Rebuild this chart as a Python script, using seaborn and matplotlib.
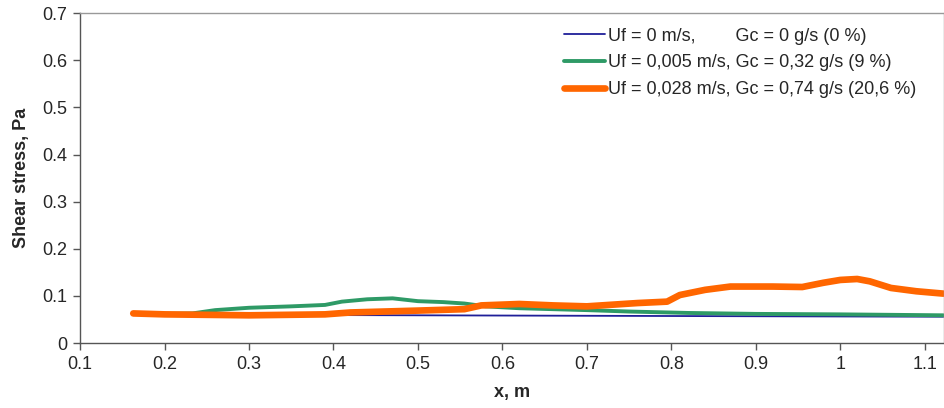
import numpy as np
import pandas as pd
import matplotlib
matplotlib.use("Agg")
import matplotlib.pyplot as plt
import seaborn as sns

# ---- data ----
x_blue = [0.163, 0.3, 0.5, 0.7, 0.9, 1.122]
y_blue = [0.063, 0.060, 0.059, 0.058, 0.057, 0.056]

x_green = [0.163, 0.2, 0.233, 0.26, 0.3, 0.35, 0.39, 0.41, 0.44, 0.47, 0.50,
           0.53, 0.555, 0.58, 0.62, 0.7, 0.75, 0.82, 0.9, 1.0, 1.122]
y_green = [0.063, 0.062, 0.063, 0.070, 0.075, 0.078, 0.081, 0.088, 0.093, 0.095, 0.089,
           0.087, 0.084, 0.078, 0.074, 0.070, 0.067, 0.064, 0.062, 0.061, 0.059]

x_orange = [0.163, 0.2, 0.3, 0.39, 0.42, 0.5, 0.555, 0.575, 0.62, 0.66, 0.7, 0.76,
            0.795, 0.81, 0.84, 0.87, 0.92, 0.955, 0.98, 1.0, 1.02, 1.035, 1.06, 1.09, 1.122]
y_orange = [0.063, 0.061, 0.059, 0.061, 0.065, 0.069, 0.072, 0.080, 0.083, 0.080, 0.078, 0.085,
            0.088, 0.102, 0.113, 0.120, 0.120, 0.119, 0.128, 0.134, 0.136, 0.131, 0.117, 0.110, 0.105]

labels = ["Uf = 0 m/s,        Gc = 0 g/s (0 %)",
          "Uf = 0,005 m/s, Gc = 0,32 g/s (9 %)",
          "Uf = 0,028 m/s, Gc = 0,74 g/s (20,6 %)"]
colors = ["#1f1f99", "#2e9a66", "#ff6600"]
widths = [1.3, 2.8, 4.8]

sns.set_style("ticks")
plt.rcParams["font.family"] = ["Liberation Sans", "DejaVu Sans"]

fig = plt.figure(figsize=(9.45, 4.08), dpi=100)
ax = fig.add_axes([0.0847, 0.159, 0.914, 0.809])

series = [(x_blue, y_blue), (x_green, y_green), (x_orange, y_orange)]
for (xs, ys), lab, c, lw in zip(series, labels, colors, widths):
    df = pd.DataFrame({"x": xs, "y": ys})
    sns.lineplot(data=df, x="x", y="y", ax=ax, color=c, linewidth=lw,
                 label=lab, sort=False, solid_capstyle="round")

ax.set_xlim(0.1, 1.1225)
ax.set_ylim(0, 0.7)
ax.set_xticks(np.arange(0.1, 1.15, 0.1))
ax.set_yticks(np.arange(0, 0.75, 0.1))
ax.xaxis.set_major_formatter(plt.FuncFormatter(lambda v, p: f"{v:.1f}".rstrip("0").rstrip(".") if v else "0"))
ax.yaxis.set_major_formatter(plt.FuncFormatter(lambda v, p: f"{v:.1f}" if v else "0"))
ax.tick_params(axis="both", labelsize=13, length=5, width=1, color="#555555", direction="out", pad=4)

for side, sp in ax.spines.items():
    sp.set_color("#555555" if side in ("left", "bottom") else "#999999")
    sp.set_linewidth(1)

ax.set_xlabel("x, m", fontsize=13, fontweight="bold", labelpad=8)
ax.set_ylabel("Shear stress, Pa", fontsize=13, fontweight="bold", labelpad=9)

leg = ax.legend(loc="upper right", bbox_to_anchor=(0.985, 1.0), frameon=False,
                fontsize=13, handlelength=2.3, handletextpad=0.15, labelspacing=0.55,
                borderaxespad=0.4)

fig.savefig("out.png", dpi=100)
